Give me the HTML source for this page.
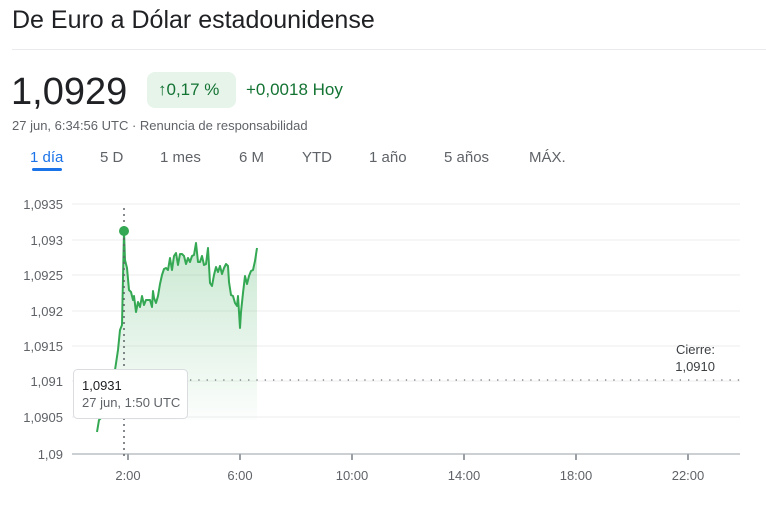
<!DOCTYPE html>
<html><head><meta charset="utf-8"><style>
body{margin:0;width:766px;height:510px;background:#fff;font-family:"Liberation Sans",Arial,sans-serif;overflow:hidden;position:relative;color:#202124}
.a{position:absolute;white-space:nowrap}
</style></head><body>
<div class="a" style="left:12px;top:6px;font-size:25px;color:#202124">De Euro a Dólar estadounidense</div>
<div class="a" style="left:12px;top:49px;width:754px;height:1px;background:#e8eaed"></div>
<div class="a" style="left:11px;top:71px;font-size:38px;color:#202124">1,0929</div>
<div class="a" style="left:147px;top:72px;width:89px;height:36px;background:#e6f4ea;border-radius:8px"></div>
<div class="a" style="left:158px;top:80px;font-size:17px;color:#137333">↑0,17 %</div>
<div class="a" style="left:246px;top:80px;font-size:17px;color:#137333">+0,0018 Hoy</div>
<div class="a" style="left:12px;top:118px;font-size:13px;color:#5f6368">27 jun, 6:34:56 UTC · Renuncia de responsabilidad</div>
<div class="a" style="left:30px;top:149px;font-size:15px;color:#1a73e8">1 día</div>
<div class="a" style="left:32px;top:168px;width:30px;height:3px;background:#1a73e8;border-radius:2px"></div>
<div class="a" style="left:100px;top:149px;font-size:15px;color:#5f6368">5 D</div>
<div class="a" style="left:160px;top:149px;font-size:15px;color:#5f6368">1 mes</div>
<div class="a" style="left:239px;top:149px;font-size:15px;color:#5f6368">6 M</div>
<div class="a" style="left:302px;top:149px;font-size:15px;color:#5f6368">YTD</div>
<div class="a" style="left:369px;top:149px;font-size:15px;color:#5f6368">1 año</div>
<div class="a" style="left:444px;top:149px;font-size:15px;color:#5f6368">5 años</div>
<div class="a" style="left:529px;top:149px;font-size:15px;color:#5f6368">MÁX.</div>
<svg class="a" style="left:0;top:0" width="766" height="510">
<defs><linearGradient id="g" x1="0" y1="0" x2="0" y2="1"><stop offset="0" stop-color="#34a853" stop-opacity="0.28"/><stop offset="1" stop-color="#34a853" stop-opacity="0"/></linearGradient></defs>
<g stroke="#eeeeee" stroke-width="1">
<line x1="72" y1="204" x2="740" y2="204"/><line x1="72" y1="240" x2="740" y2="240"/><line x1="72" y1="275" x2="740" y2="275"/><line x1="72" y1="311" x2="740" y2="311"/><line x1="72" y1="346" x2="740" y2="346"/><line x1="72" y1="381" x2="740" y2="381"/><line x1="72" y1="417" x2="740" y2="417"/>
</g>
<line x1="72" y1="454" x2="740" y2="454" stroke="#9aa0a6" stroke-width="1"/>
<g stroke="#9aa0a6" stroke-width="2"><line x1="128" y1="454" x2="128" y2="460"/><line x1="240" y1="454" x2="240" y2="460"/><line x1="352" y1="454" x2="352" y2="460"/><line x1="464" y1="454" x2="464" y2="460"/><line x1="576" y1="454" x2="576" y2="460"/><line x1="688" y1="454" x2="688" y2="460"/></g>
<g font-size="13" fill="#5f6368" text-anchor="end">
<text x="63" y="209">1,0935</text><text x="63" y="245">1,093</text><text x="63" y="280">1,0925</text><text x="63" y="316">1,092</text><text x="63" y="351">1,0915</text><text x="63" y="386">1,091</text><text x="63" y="422">1,0905</text><text x="63" y="459">1,09</text>
</g>
<g font-size="13" fill="#5f6368" text-anchor="middle">
<text x="128" y="480">2:00</text><text x="240" y="480">6:00</text><text x="352" y="480">10:00</text><text x="464" y="480">14:00</text><text x="576" y="480">18:00</text><text x="688" y="480">22:00</text>
</g>
<line x1="190" y1="380" x2="740" y2="380" stroke="#70757a" stroke-width="1.3" stroke-dasharray="1.3 7"/>
<text x="715" y="354" font-size="13" fill="#3c4043" text-anchor="end">Cierre:</text>
<text x="715" y="371" font-size="13" fill="#3c4043" text-anchor="end">1,0910</text>
<path fill="url(#g)" d="M97,432 L99,420 101,418 104,408 108,395 112,382 115,370 118,350 120,330 122,325 124,231 125,260 127,268 129,290 131,292 133,300 134,296 136,312 138,302 140,307 142,296 144,305 146,300 148,300 150,300 152,307 153,291 154,298 156,303 158,296 160,284 162,275 164,269 166,268 168,270 170,258 172,270 174,256 176,253 178,265 180,254 182,254 184,256 186,264 188,258 190,262 192,256 194,255 196,243 198,262 200,262 202,256 204,265 206,264 208,248 210,283 212,286 214,275 216,267 218,272 220,266 222,274 224,268 226,264 228,266 229,282 231,295 233,296 235,303 237,306 238,296 240,328 241,312 243,293 245,276 247,284 249,276 251,271 253,270 255,261 257,248 L257,420 L97,420 Z"/>
<polyline fill="none" stroke="#34a853" stroke-width="2" stroke-linejoin="round" points="97,432 99,420 101,418 104,408 108,395 112,382 115,370 118,350 120,330 122,325 124,231 125,260 127,268 129,290 131,292 133,300 134,296 136,312 138,302 140,307 142,296 144,305 146,300 148,300 150,300 152,307 153,291 154,298 156,303 158,296 160,284 162,275 164,269 166,268 168,270 170,258 172,270 174,256 176,253 178,265 180,254 182,254 184,256 186,264 188,258 190,262 192,256 194,255 196,243 198,262 200,262 202,256 204,265 206,264 208,248 210,283 212,286 214,275 216,267 218,272 220,266 222,274 224,268 226,264 228,266 229,282 231,295 233,296 235,303 237,306 238,296 240,328 241,312 243,293 245,276 247,284 249,276 251,271 253,270 255,261 257,248"/>
<line x1="124" y1="208" x2="124" y2="456" stroke="#5f6368" stroke-width="1.5" stroke-dasharray="2 4"/>
<circle cx="124" cy="231" r="5" fill="#34a853"/>
<rect x="73.5" y="369.5" width="114" height="49" rx="4" fill="#fff" stroke="#dadce0"/>
<text x="82" y="390" font-size="13" fill="#202124">1,0931</text>
<text x="82" y="407" font-size="13" fill="#5f6368">27 jun, 1:50 UTC</text>
</svg>
</body></html>
